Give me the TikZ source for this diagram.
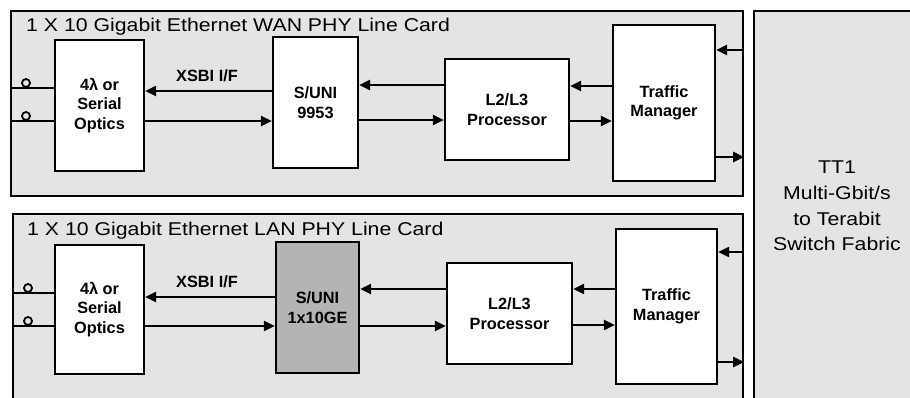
\documentclass[tikz,border=0pt]{standalone}
\usepackage{fontspec}
\setmainfont{Liberation Sans}
\newfontfamily\widefont[FakeStretch=1.15]{Liberation Sans}
\usetikzlibrary{arrows.meta}
\definecolor{bg}{RGB}{228,228,228}
\definecolor{chip}{RGB}{180,180,180}
\begin{document}
\begin{tikzpicture}[x=1pt,y=-1pt,
  card/.style={draw,line width=2.2pt,fill=bg,inner sep=0pt,anchor=north west},
  blk/.style={draw,line width=2.2pt,fill=white,inner sep=0pt,align=center,
    font=\bfseries\fontsize{16.3}{19.5}\selectfont},
  lbl/.style={inner sep=0pt,font=\bfseries\fontsize{16.3}{19}\selectfont},
  ttl/.style={inner sep=0pt,anchor=base west,font=\widefont\fontsize{18.5}{20}\selectfont},
  port/.style={circle,draw,line width=1.8pt,fill=bg,inner sep=0pt,minimum size=8pt},
  conn/.style={line width=2.1pt},
  arr/.style={conn,-{Triangle[length=11pt,width=10pt]}}]
\clip (0,0) rectangle (910,397);
% cards
\node[card,minimum width=732pt,minimum height=185pt] (card1) at (10,10) {};
\node[card,minimum width=730pt,minimum height=200pt] (card2) at (12,213) {};
\node[card,minimum width=170pt,minimum height=400pt] (fab) at (753,10) {};
\node[align=center,inner sep=0pt,font=\widefont\fontsize{18.5}{25.7}\selectfont] (fabtxt) at (837,206) {TT1\\Multi-Gbit/s\\to Terabit\\Switch Fabric};
\node[ttl] (t1) at (26,31.5) {1 X 10 Gigabit Ethernet WAN PHY Line Card};
\node[ttl] (t2) at (27,235) {1 X 10 Gigabit Ethernet LAN PHY Line Card};
% top card blocks
\node[blk,minimum width=89pt,minimum height=131pt] (opt1) at (99.5,105.5) {4λ or\\Serial\\Optics};
\node[blk,minimum width=85pt,minimum height=131pt] (suni1) at (315.5,102.5) {S/UNI\\9953};
\node[blk,minimum width=124pt,minimum height=101pt] (l2a) at (507,109.5) {L2/L3\\Processor};
\node[blk,minimum width=102pt,minimum height=156pt] (tm1) at (664,103) {Traffic\\Manager};
\node[lbl] (x1) at (207,76) {XSBI I/F};
% bottom card blocks
\node[blk,minimum width=89pt,minimum height=129pt] (opt2) at (99.5,309.5) {4λ or\\Serial\\Optics};
\node[blk,fill=chip,minimum width=83pt,minimum height=131pt] (suni2) at (317.5,307.5) {S/UNI\\1x10GE};
\node[blk,minimum width=125pt,minimum height=101pt] (l2b) at (509.5,313.5) {L2/L3\\Processor};
\node[blk,minimum width=101pt,minimum height=155pt] (tm2) at (666.5,306.5) {Traffic\\Manager};
\node[lbl] (x2) at (207,282) {XSBI I/F};
% top connectors
\draw[conn] (card1.west |- 0,88) -- (opt1.west |- 0,88);
\draw[conn] (card1.west |- 0,121) -- (opt1.west |- 0,121);
\node[port] (p1) at (26,83) {};
\node[port] (p2) at (26,116) {};
\draw[arr] (suni1.west |- 0,91) -- (opt1.east |- 0,91);
\draw[arr] (opt1.east |- 0,121) -- (suni1.west |- 0,121);
\draw[arr] (l2a.west |- 0,85) -- (suni1.east |- 0,85);
\draw[arr] (suni1.east |- 0,120) -- (l2a.west |- 0,120);
\draw[arr] (tm1.west |- 0,86) -- (l2a.east |- 0,86);
\draw[arr] (l2a.east |- 0,121) -- (tm1.west |- 0,121);
\draw[arr] (card1.east |- 0,50) -- (tm1.east |- 0,50);
\draw[arr] (tm1.east |- 0,157) -- (card1.east |- 0,157);
% bottom connectors
\draw[conn] (card2.west |- 0,293) -- (opt2.west |- 0,293);
\draw[conn] (card2.west |- 0,326) -- (opt2.west |- 0,326);
\node[port] (p3) at (28,288) {};
\node[port] (p4) at (28,321) {};
\draw[arr] (suni2.west |- 0,297) -- (opt2.east |- 0,297);
\draw[arr] (opt2.east |- 0,326) -- (suni2.west |- 0,326);
\draw[arr] (l2b.west |- 0,289) -- (suni2.east |- 0,289);
\draw[arr] (suni2.east |- 0,326) -- (l2b.west |- 0,326);
\draw[arr] (tm2.west |- 0,289) -- (l2b.east |- 0,289);
\draw[arr] (l2b.east |- 0,325) -- (tm2.west |- 0,325);
\draw[arr] (card2.east |- 0,252) -- (tm2.east |- 0,252);
\draw[arr] (tm2.east |- 0,362) -- (card2.east |- 0,362);
\end{tikzpicture}
\end{document}
